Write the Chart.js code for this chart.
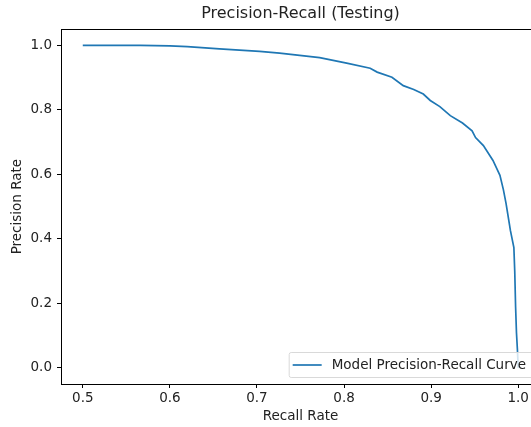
<!DOCTYPE html>
<html lang="en">
<head>
    <meta charset="UTF-8">
    <title>Precision-Recall (Testing)</title>
    <script src="https://cdn.jsdelivr.net/npm/chart.js"></script>
    <style>
        html, body { margin: 0; padding: 0; overflow: hidden; background: #fff; }
        #wrap { width: 560px; height: 427px; }
    </style>
</head>
<body>
    <div id="wrap"><canvas id="pr"></canvas></div>

    <script>
        // curve
        const recall = [0.500, 0.566, 0.600, 0.620, 0.657, 0.703, 0.726, 0.749, 0.772, 0.803,
                        0.830, 0.838, 0.855, 0.868, 0.880, 0.891, 0.899, 0.910, 0.922, 0.936,
                        0.947, 0.951, 0.960, 0.971, 0.979, 0.983, 0.986, 0.990, 0.991, 0.995,
                        0.996, 0.997, 0.998, 0.999, 1.000];
        const precision = [1.000, 1.000, 0.998, 0.996, 0.989, 0.981, 0.976, 0.969, 0.962, 0.945,
                           0.929, 0.917, 0.901, 0.875, 0.863, 0.849, 0.829, 0.810, 0.782, 0.759,
                           0.735, 0.714, 0.689, 0.643, 0.597, 0.552, 0.510, 0.443, 0.426, 0.373,
                           0.300, 0.188, 0.108, 0.060, 0.000];
        const xTicks = [0.5, 0.6, 0.7, 0.8, 0.9, 1.0];
        const yTicks = [0.0, 0.2, 0.4, 0.6, 0.8, 1.0];
        const seriesName = 'Model Precision-Recall Curve';

        const FONT = 'DejaVu Sans';
        const BLUE = '#1f77b4';
        const FS = 13.5;

        // axes frame + legend box in the lower right
        const frameAndLegend = {
            id: 'frameAndLegend',
            afterDraw(chart) {
                const { ctx, chartArea: a } = chart;
                ctx.save();
                ctx.strokeStyle = '#000';
                ctx.lineWidth = 1;
                ctx.strokeRect(Math.round(a.left) + 0.5, Math.round(a.top) + 0.5,
                               Math.round(a.right - a.left), Math.round(a.bottom - a.top));

                ctx.font = FS + 'px "' + FONT + '"';
                const tw = ctx.measureText(seriesName).width;
                const w = tw + 50, h = 25;
                const x = a.right - 7 - w, y = a.bottom - 7 - h;
                ctx.fillStyle = 'rgba(255,255,255,0.8)';
                ctx.strokeStyle = '#d9d9d9';
                ctx.beginPath();
                ctx.roundRect(x + 0.5, y + 0.5, w, h, 2);
                ctx.fill();
                ctx.stroke();
                ctx.strokeStyle = BLUE;
                ctx.lineWidth = 1.7;
                ctx.beginPath();
                ctx.moveTo(x + 4, y + h / 2 + 0.5);
                ctx.lineTo(x + 33, y + h / 2 + 0.5);
                ctx.stroke();
                ctx.fillStyle = '#222';
                ctx.textBaseline = 'middle';
                ctx.fillText(seriesName, x + 43, y + h / 2 + 1);
                ctx.restore();
            }
        };

        new Chart(document.getElementById('pr'), {
            type: 'scatter',
            data: {
                datasets: [{
                    label: seriesName,
                    data: recall.map((r, i) => ({ x: r, y: precision[i] })),
                    showLine: true,
                    borderColor: BLUE,
                    borderWidth: 1.7,
                    pointRadius: 0,
                    tension: 0
                }]
            },
            options: {
                responsive: true,
                maintainAspectRatio: false,
                animation: false,
                layout: { padding: { left: 0, right: 20, top: 0, bottom: 0 } },
                plugins: {
                    legend: { display: false },
                    tooltip: { enabled: false },
                    title: {
                        display: true,
                        text: 'Precision-Recall (Testing)',
                        fullSize: false,
                        color: '#222',
                        font: { family: FONT, size: 16, weight: 'normal' },
                        padding: { top: 4, bottom: 6 }
                    }
                },
                scales: {
                    x: {
                        type: 'linear',
                        min: 0.475,
                        max: 1.025,
                        afterBuildTicks: s => { s.ticks = xTicks.map(v => ({ value: v })); },
                        afterFit: s => { s.height = 43; },
                        grid: { display: true, drawOnChartArea: false, drawTicks: true, tickLength: 4, color: '#000' },
                        border: { display: true, color: '#000' },
                        ticks: {
                            padding: 2,
                            color: '#222',
                            font: { family: FONT, size: FS },
                            callback: v => v.toFixed(1)
                        },
                        title: {
                            display: true,
                            text: 'Recall Rate',
                            color: '#222',
                            font: { family: FONT, size: FS },
                            padding: { top: 0, bottom: 2 }
                        }
                    },
                    y: {
                        type: 'linear',
                        min: -0.05,
                        max: 1.05,
                        afterBuildTicks: s => { s.ticks = yTicks.map(v => ({ value: v })); },
                        afterFit: s => { s.width = 61; },
                        grid: { display: true, drawOnChartArea: false, drawTicks: true, tickLength: 4, color: '#000' },
                        border: { display: true, color: '#000' },
                        ticks: {
                            padding: 5,
                            color: '#222',
                            font: { family: FONT, size: FS },
                            callback: v => v.toFixed(1)
                        },
                        title: {
                            display: true,
                            text: 'Precision Rate',
                            color: '#222',
                            font: { family: FONT, size: FS },
                            padding: { top: 9, bottom: 0 }
                        }
                    }
                }
            },
            plugins: [frameAndLegend]
        });
    </script>
</body>
</html>
